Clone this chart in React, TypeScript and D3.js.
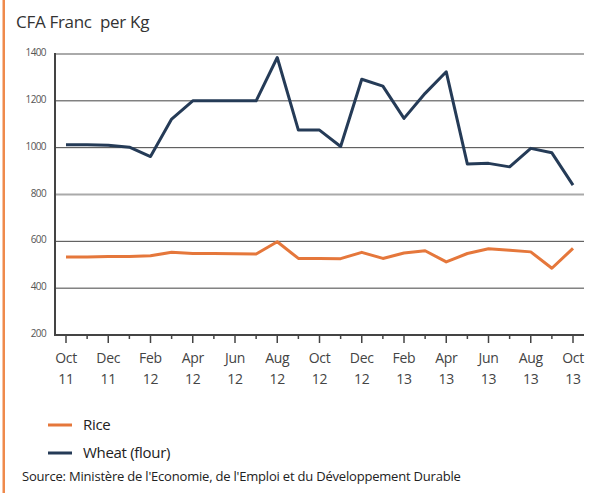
import React, { useEffect, useRef } from 'react';
import * as d3 from 'd3';

// monthly prices Oct 2011 - Oct 2013
const months = [
  'Oct 11', 'Nov 11', 'Dec 11', 'Jan 12', 'Feb 12', 'Mar 12', 'Apr 12', 'May 12', 'Jun 12',
  'Jul 12', 'Aug 12', 'Sep 12', 'Oct 12', 'Nov 12', 'Dec 12', 'Jan 13', 'Feb 13', 'Mar 13',
  'Apr 13', 'May 13', 'Jun 13', 'Jul 13', 'Aug 13', 'Sep 13', 'Oct 13',
];
const rice = [
  533, 533, 535, 535, 538, 553, 548, 548, 547, 546, 598, 527, 527, 526, 553, 527,
  550, 560, 512, 548, 568, 562, 555, 485, 570,
];
const wheat = [
  1012, 1012, 1010, 1002, 962, 1122, 1200, 1200, 1200, 1200, 1385, 1075, 1075, 1005,
  1292, 1263, 1125, 1232, 1324, 930, 933, 918, 997, 978, 840,
];
const yTicks = [200, 400, 600, 800, 1000, 1200, 1400];
const legendItems = [
  { label: 'Rice', color: '#e5773b' },
  { label: 'Wheat (flour)', color: '#253b57' },
];

const W = 589;
const H = 493;
const font = '"Open Sans", sans-serif';

export default function App() {
  const ref = useRef<SVGSVGElement>(null);

  useEffect(() => {
    const svg = d3.select(ref.current);
    svg.selectAll('*').remove();

    const x = d3.scalePoint().domain(months).range([66, 573]);
    const y = d3.scaleLinear().domain([200, 1400]).range([335, 54]);
    const left = 55;
    const right = 584;

    svg.append('rect').attr('width', W).attr('height', H).attr('fill', '#fff');
    svg.append('rect').attr('x', 2.5).attr('y', 0).attr('width', 2.5).attr('height', H).attr('fill', '#ef8a4c');

    svg.append('text')
      .attr('x', 16).attr('y', 28)
      .attr('font-family', font).attr('font-size', 17).attr('fill', '#333')
      .attr('letter-spacing', -0.3)
      .style('white-space', 'pre')
      .text('CFA Franc  per Kg');

    // gridlines
    svg.append('g').selectAll('line')
      .data(yTicks.filter(d => d > 200))
      .enter().append('line')
      .attr('x1', left).attr('x2', right)
      .attr('y1', d => y(d)).attr('y2', d => y(d))
      .attr('stroke', d => (d === 1400 || d === 800 ? '#aaa' : '#444'))
      .attr('stroke-width', d => (d === 1400 || d === 800 ? 2 : 1));

    svg.append('g').selectAll('text')
      .data(yTicks)
      .enter().append('text')
      .attr('x', 46).attr('y', d => y(d) + 2)
      .attr('text-anchor', 'end')
      .attr('font-family', font).attr('font-size', 10).attr('fill', '#555')
      .attr('letter-spacing', -0.6)
      .text(d => d);

    // axes
    svg.append('line')
      .attr('x1', left).attr('x2', left).attr('y1', y(1400) - 1).attr('y2', y(200) + 1)
      .attr('stroke', '#444').attr('stroke-width', 2);
    svg.append('line')
      .attr('x1', left - 1).attr('x2', right).attr('y1', y(200)).attr('y2', y(200))
      .attr('stroke', '#444').attr('stroke-width', 2);

    svg.append('g').selectAll('line')
      .data(months)
      .enter().append('line')
      .attr('x1', d => x(d)!).attr('x2', d => x(d)!)
      .attr('y1', y(200)).attr('y2', (d, i) => y(200) + (i % 2 === 0 ? 8 : 4))
      .attr('stroke', '#444').attr('stroke-width', 1.5);

    const lbl = svg.append('g').selectAll('text')
      .data(months.filter((d, i) => i % 2 === 0))
      .enter().append('text')
      .attr('text-anchor', 'middle')
      .attr('font-family', font).attr('font-size', 14).attr('fill', '#444')
      .attr('letter-spacing', -0.3);
    lbl.append('tspan').attr('x', d => x(d)!).attr('y', 363).text(d => d.split(' ')[0]);
    lbl.append('tspan').attr('x', d => x(d)!).attr('y', 384).text(d => d.split(' ')[1]);

    const line = d3.line<number>().x((d, i) => x(months[i])!).y(d => y(d));
    svg.append('path').datum(rice).attr('d', line)
      .attr('fill', 'none').attr('stroke', legendItems[0].color).attr('stroke-width', 3)
      .attr('stroke-linejoin', 'round');
    svg.append('path').datum(wheat).attr('d', line)
      .attr('fill', 'none').attr('stroke', legendItems[1].color).attr('stroke-width', 3)
      .attr('stroke-linejoin', 'round');

    const leg = svg.append('g').selectAll('g')
      .data(legendItems)
      .enter().append('g')
      .attr('transform', (d, i) => `translate(0,${425 + i * 28})`);
    leg.append('line').attr('x1', 48).attr('x2', 72).attr('stroke', d => d.color).attr('stroke-width', 3);
    leg.append('text').attr('x', 83).attr('y', 5)
      .attr('font-family', font).attr('font-size', 15).attr('fill', '#222')
      .attr('letter-spacing', -0.3)
      .text(d => d.label);

    svg.append('text')
      .attr('x', 22).attr('y', 481)
      .attr('font-family', font).attr('font-size', 13).attr('fill', '#222')
      .attr('letter-spacing', -0.2)
      .text("Source: Ministère de l'Economie, de l'Emploi et du Développement Durable");
  }, []);

  return (
    <>
      <style>{'body{margin:0}'}</style>
      <svg ref={ref} width={W} height={H} style={{ display: 'block' }} />
    </>
  );
}
